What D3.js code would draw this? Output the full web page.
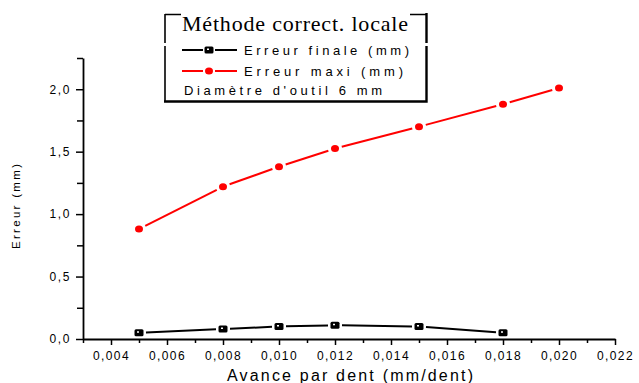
<!DOCTYPE html>
<html>
<head>
<meta charset="utf-8">
<script src="https://cdn.jsdelivr.net/npm/d3@7"></script>
<style>
  body { margin: 0; background: #fff; }
  text { font-family: "Liberation Sans", Arial, sans-serif; }
</style>
</head>
<body>
<svg id="chart" width="639" height="383"></svg>
<script>
// data
var avance = [0.005, 0.008, 0.010, 0.012, 0.015, 0.018, 0.020];
var erreurFinale = [0.05, 0.08, 0.10, 0.11, 0.10, 0.05];
var erreurMaxi = [0.88, 1.22, 1.38, 1.525, 1.70, 1.88, 2.01];
var xTicks = [0.004, 0.006, 0.008, 0.010, 0.012, 0.014, 0.016, 0.018, 0.020, 0.022];
var xMinor = [0.003, 0.005, 0.007, 0.009, 0.011, 0.013, 0.015, 0.017, 0.019, 0.021];
var yTicks = [0, 0.5, 1.0, 1.5, 2.0];
var yMinor = [0.25, 0.75, 1.25, 1.75, 2.25];
var legendTitle = "Méthode correct. locale";
var seriesNames = ["Erreur finale (mm)", "Erreur maxi (mm)"];
var legendNote = "Diamètre d'outil 6 mm";

var svg = d3.select("#chart");
var fr = d3.formatLocale({decimal: ",", thousands: " ", grouping: [3], currency: ["", "€"]});

var x = d3.scaleLinear().domain([0.003, 0.022]).range([83, 615]);
var y = d3.scaleLinear().domain([0, 2.25]).range([339, 58]);

// minor ticks first
svg.append("g").attr("transform", "translate(0,339)")
  .call(d3.axisBottom(x).tickValues(xMinor).tickSize(4).tickFormat(""))
  .call(function (g) { g.select(".domain").remove(); });
svg.append("g").attr("transform", "translate(83,0)")
  .call(d3.axisLeft(y).tickValues(yMinor).tickSize(6).tickFormat(""))
  .call(function (g) { g.select(".domain").remove(); });

var xAxis = svg.append("g").attr("transform", "translate(0,339)")
  .call(d3.axisBottom(x).tickValues(xTicks).tickSize(6).tickSizeOuter(0).tickPadding(6)
    .tickFormat(fr.format(".3f")));
var yAxis = svg.append("g").attr("transform", "translate(83,0)")
  .call(d3.axisLeft(y).tickValues(yTicks).tickSize(7).tickSizeOuter(0).tickPadding(5)
    .tickFormat(fr.format(".1f")));

svg.selectAll(".tick line").attr("stroke", "#000").attr("stroke-width", 1.5);
svg.selectAll(".domain").attr("stroke", "#000").attr("stroke-width", 1.8);
svg.selectAll(".tick text").attr("font-family", "Liberation Sans, Arial, sans-serif")
  .attr("font-size", 12).attr("fill", "#000");
xAxis.selectAll("text").attr("letter-spacing", 1.4);
yAxis.selectAll("text").attr("letter-spacing", 1.6);

svg.append("text").attr("x", 227).attr("y", 381)
  .attr("font-size", 16).attr("textLength", 246).attr("lengthAdjust", "spacing")
  .text("Avance par dent (mm/dent)");
svg.append("text").attr("transform", "translate(20,249) rotate(-90)")
  .attr("font-size", 11.5).attr("textLength", 85).attr("lengthAdjust", "spacing")
  .text("Erreur (mm)");

// line with small gaps around the markers
function gappedSegments(xs, ys, gap) {
  var segs = [];
  for (var i = 0; i < ys.length - 1; i++) {
    var x1 = x(xs[i]), y1 = y(ys[i]), x2 = x(xs[i + 1]), y2 = y(ys[i + 1]);
    var len = Math.hypot(x2 - x1, y2 - y1), ux = (x2 - x1) / len, uy = (y2 - y1) / len;
    segs.push([[x1 + ux * gap, y1 + uy * gap], [x2 - ux * gap, y2 - uy * gap]]);
  }
  return segs;
}

function drawSeries(ys, color, marker) {
  var g = svg.append("g");
  g.selectAll("path.seg").data(gappedSegments(avance, ys, 7)).enter().append("path")
    .attr("class", "seg").attr("d", d3.line()).attr("stroke", color)
    .attr("stroke-width", 2).attr("fill", "none");
  var pts = ys.map(function (v, i) { return [avance[i], v]; });
  if (marker == "square") {
    g.selectAll("rect.m").data(pts).enter().append("rect").attr("class", "m")
      .attr("x", function (d) { return x(d[0]) - 4.5; }).attr("y", function (d) { return y(d[1]) - 3.5; })
      .attr("width", 9).attr("height", 7).attr("rx", 1.5).attr("fill", "#000");
    g.selectAll("rect.h").data(pts).enter().append("rect").attr("class", "h")
      .attr("x", function (d) { return x(d[0]) - 2; }).attr("y", function (d) { return y(d[1]) - 1.5; })
      .attr("width", 2).attr("height", 1.5).attr("fill", "#fff");
  } else {
    g.selectAll("ellipse").data(pts).enter().append("ellipse")
      .attr("cx", function (d) { return x(d[0]); }).attr("cy", function (d) { return y(d[1]); })
      .attr("rx", 4).attr("ry", 3.5).attr("fill", color);
  }
}

drawSeries(erreurFinale, "#000", "square");
drawSeries(erreurMaxi, "#ff0000", "circle");

// legend box
var lg = svg.append("g");
lg.append("rect").attr("x", 165).attr("y", 14).attr("width", 260).attr("height", 87)
  .attr("fill", "#fff").attr("stroke", "none");
lg.append("path").attr("d", "M165,14V101").attr("stroke", "#000").attr("stroke-width", 1.6);
lg.append("path").attr("d", "M164,101.5H426.5V13").attr("stroke", "#000").attr("stroke-width", 2.4).attr("fill", "none");
lg.append("path").attr("d", "M165,14.5H181M410,14.5H426").attr("stroke", "#000").attr("stroke-width", 1.6);
lg.selectAll("rect.gap").data([163, 424]).enter().append("rect").attr("class", "gap")
  .attr("x", function (d) { return d; }).attr("y", 43).attr("width", 4).attr("height", 3).attr("fill", "#fff");
lg.append("text").attr("x", 182).attr("y", 31)
  .style("font-family", "'Liberation Serif', 'Times New Roman', serif")
  .attr("font-size", 22).attr("textLength", 226).text(legendTitle);

var rows = [{name: seriesNames[0], color: "#000", y: 50, marker: "square", w: 165},
            {name: seriesNames[1], color: "#ff0000", y: 71, marker: "circle", w: 159}];
rows.forEach(function (r) {
  lg.append("path").attr("d", "M182," + r.y + "H203M215," + r.y + "H237")
    .attr("stroke", r.color).attr("stroke-width", 2);
  if (r.marker == "square") {
    lg.append("rect").attr("x", 204.5).attr("y", r.y - 3.5).attr("width", 9).attr("height", 7).attr("rx", 1.5).attr("fill", "#000");
    lg.append("rect").attr("x", 207).attr("y", r.y - 1.5).attr("width", 2).attr("height", 1.5).attr("fill", "#fff");
  } else {
    lg.append("ellipse").attr("cx", 209).attr("cy", r.y).attr("rx", 4).attr("ry", 3.5).attr("fill", r.color);
  }
  lg.append("text").attr("x", 244).attr("y", r.y + 5).attr("font-size", 13)
    .attr("textLength", r.w).attr("lengthAdjust", "spacing").text(r.name);
});
lg.append("text").attr("x", 184).attr("y", 95).attr("font-size", 13)
  .attr("textLength", 198).attr("lengthAdjust", "spacing").text(legendNote);
</script>
</body>
</html>
